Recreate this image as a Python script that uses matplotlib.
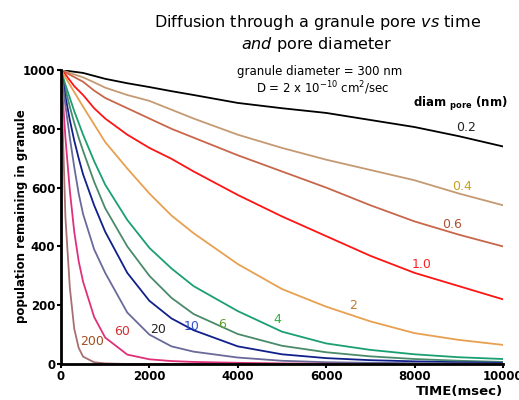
import matplotlib.pyplot as plt

# time points (msec)
time = [0, 100, 200, 300, 400, 500, 750, 1000, 1500, 2000, 2500, 3000,
        4000, 5000, 6000, 7000, 8000, 9000, 10000]

# population remaining, one list per pore diameter (nm)
pop_0_2 = [1000, 998, 996, 994, 992, 990, 980, 970, 955, 942, 928, 915,
           888, 870, 854, 830, 806, 775, 740]
pop_0_4 = [1000, 995, 990, 985, 980, 975, 958, 940, 915, 895, 865, 835,
           780, 735, 695, 660, 625, 580, 540]
pop_0_6 = [1000, 992, 984, 976, 968, 960, 930, 905, 870, 835, 800, 770,
           710, 655, 600, 540, 485, 440, 400]
pop_1_0 = [1000, 985, 965, 945, 930, 915, 870, 835, 780, 735, 698, 655,
           575, 502, 435, 368, 310, 265, 220]
pop_2 = [1000, 975, 950, 925, 900, 875, 815, 755, 665, 580, 505, 445,
         340, 255, 195, 145, 105, 82, 65]
pop_4 = [1000, 950, 905, 860, 820, 780, 690, 610, 490, 395, 325, 265,
         180, 110, 70, 48, 33, 23, 17]
pop_6 = [1000, 935, 875, 820, 770, 725, 620, 530, 400, 300, 225, 170,
         102, 62, 40, 26, 17, 11, 7]
pop_10 = [1000, 910, 830, 760, 700, 645, 540, 450, 310, 215, 155, 115,
          60, 33, 20, 13, 9, 6, 4]
pop_20 = [1000, 880, 770, 670, 580, 510, 390, 310, 175, 100, 60, 42,
          22, 11, 6, 4, 3, 2, 1]
pop_60 = [1000, 770, 590, 450, 350, 280, 160, 90, 32, 16, 10, 7,
          4, 2, 1, 0, 0, 0, 0]
pop_200 = [1000, 500, 260, 120, 55, 25, 6, 2, 0, 0, 0, 0,
           0, 0, 0, 0, 0, 0, 0]

series = [pop_0_2, pop_0_4, pop_0_6, pop_1_0, pop_2, pop_4, pop_6,
          pop_10, pop_20, pop_60, pop_200]
line_colors = ['#000000', '#c49a72', '#c8664a', '#ff1414', '#e8a050',
               '#1aa070', '#4a8a6a', '#10208a', '#6a6a9a', '#e0307a',
               '#a87070']

# curve labels: text, position, colour
labels = ['0.2', '0.4', '0.6', '1.0', '2', '4', '6', '10', '20', '60', '200']
label_t = [9160, 9070, 8850, 8150, 6600, 4890, 3640, 2960, 2200, 1380, 700]
label_v = [803, 605, 476, 340, 200, 150, 133, 129, 116, 109, 75]
label_colors = ['#222222', '#c8a020', '#b05030', '#ff2020', '#c87830',
                '#30b040', '#60a030', '#3050d0', '#222222', '#d03030',
                '#a05020']

fig = plt.figure(figsize=(5.19, 4.0), dpi=100)
ax = fig.add_axes([0.1175, 0.09, 0.8515, 0.735])

for y, c in zip(series, line_colors):
    ax.plot(time, y, color=c, lw=1.3)

for txt, t, v, c in zip(labels, label_t, label_v, label_colors):
    ax.text(t, v, txt, color=c, fontsize=9, ha='center', va='center')

ax.set_xlim(0, 10000)
ax.set_ylim(0, 1000)
ax.set_xticks([0, 2000, 4000, 6000, 8000, 10000])
ax.set_yticks([0, 200, 400, 600, 800, 1000])
for lab in ax.get_xticklabels() + ax.get_yticklabels():
    lab.set_fontweight('bold')
ax.tick_params(labelsize=8.5, width=1.5, length=3, pad=1)
for s in ['top', 'right']:
    ax.spines[s].set_visible(False)
for s in ['left', 'bottom']:
    ax.spines[s].set_linewidth(2)

fig.text(0.042, 0.46, 'population remaining in granule', fontsize=8.5,
         fontweight='bold', rotation=90, ha='center', va='center')
fig.text(0.97, 0.02, 'TIME(msec)', fontsize=9.5, fontweight='bold',
         ha='right', va='center')

fig.text(0.611, 0.945, 'Diffusion through a granule pore $\\it{vs}$ time',
         fontsize=11.5, ha='center', va='center')
fig.text(0.611, 0.888, '$\\it{and}$ pore diameter', fontsize=11.5,
         ha='center', va='center')
fig.text(0.615, 0.82, 'granule diameter = 300 nm', fontsize=8.5,
         ha='center', va='center')
fig.text(0.622, 0.78, 'D = 2 x 10$^{-10}$ cm$^{2}$/sec', fontsize=8.5,
         ha='center', va='center')
fig.text(0.888, 0.74, 'diam $_{\\mathbf{pore}}$ (nm)', fontsize=8.5,
         fontweight='bold', ha='center', va='center')

plt.savefig('out.png', dpi=100)
